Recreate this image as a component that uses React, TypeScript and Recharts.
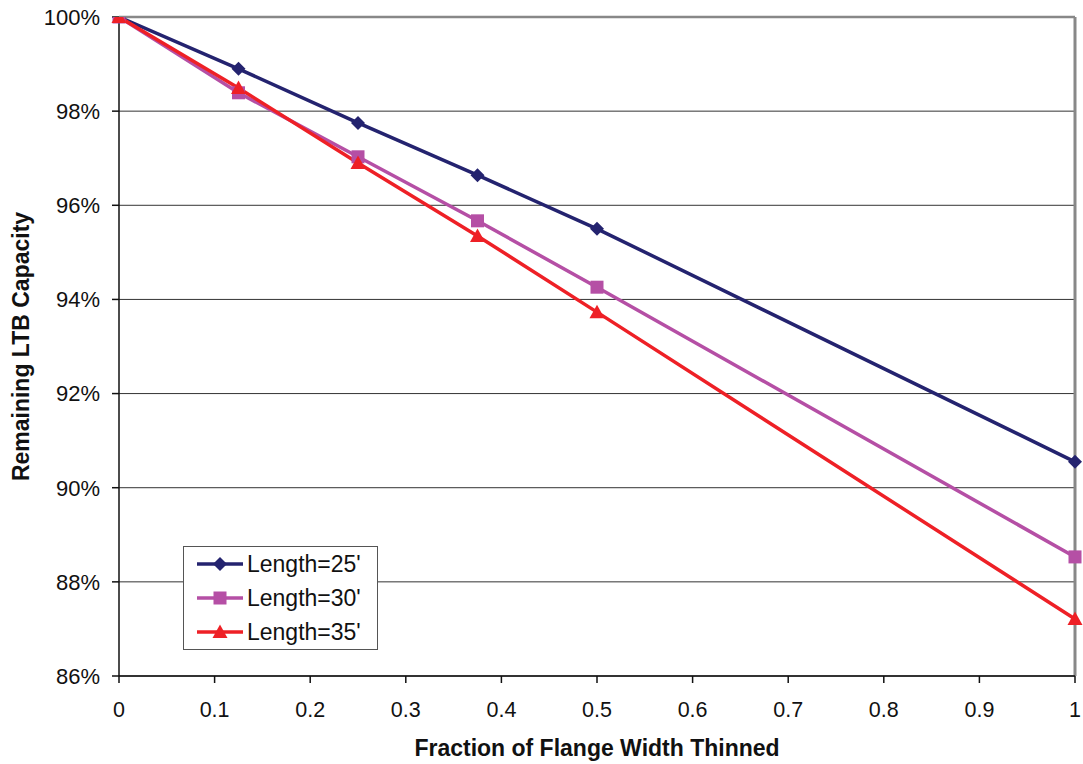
import { LineChart, Line, XAxis, YAxis, CartesianGrid, Legend, Label, ReferenceLine } from 'recharts'

// fraction of flange width thinned
const fractions = [0, 0.125, 0.25, 0.375, 0.5, 1]

// remaining LTB capacity (%) per girder length
const length25 = [100, 98.9, 97.75, 96.64, 95.5, 90.55]
const length30 = [100, 98.39, 97.03, 95.67, 94.26, 88.53]
const length35 = [100, 98.49, 96.9, 95.35, 93.73, 87.21]

const xTicks = [0, 0.1, 0.2, 0.3, 0.4, 0.5, 0.6, 0.7, 0.8, 0.9, 1]
const yTicks = [86, 88, 90, 92, 94, 96, 98, 100]

const data = fractions.map((f, i) => ({
  f,
  l25: length25[i],
  l30: length30[i],
  l35: length35[i]
}))

const FONT = '"Liberation Sans", Arial, sans-serif'

const series = [
  { key: 'l25', name: "Length=25'", color: '#24236F', shape: 'diamond' },
  { key: 'l30', name: "Length=30'", color: '#B54FA5', shape: 'square' },
  { key: 'l35', name: "Length=35'", color: '#EE2026', shape: 'triangle' }
]

function Marker({ cx, cy, shape, color }: { cx: number; cy: number; shape: string; color: string }) {
  if (shape === 'diamond') {
    const r = 7
    return <path d={`M${cx},${cy - r}L${cx + r},${cy}L${cx},${cy + r}L${cx - r},${cy}Z`} fill={color} />
  }
  if (shape === 'square') {
    const r = 6.5
    return <rect x={cx - r} y={cy - r} width={2 * r} height={2 * r} fill={color} />
  }
  const r = 7.5
  return <path d={`M${cx},${cy - r}L${cx + r},${cy + r * 0.8}L${cx - r},${cy + r * 0.8}Z`} fill={color} />
}

function LegendBox() {
  return (
    <div
      style={{
        border: '1.5px solid #555',
        background: '#fff',
        width: 195,
        boxSizing: 'border-box',
        fontFamily: FONT,
        fontSize: 23,
        color: '#111'
      }}
    >
      {series.map((s) => (
        <div key={s.key} style={{ display: 'flex', alignItems: 'center', height: 34 }}>
          <svg width={48} height={20} style={{ marginLeft: 13 }}>
            <line x1={0} y1={10} x2={46} y2={10} stroke={s.color} strokeWidth={3.5} />
            <Marker cx={23} cy={10} shape={s.shape} color={s.color} />
          </svg>
          <span style={{ marginLeft: 2 }}>{s.name}</span>
        </div>
      ))}
    </div>
  )
}

export default function App() {
  return (
    <div style={{ position: 'absolute', left: 0, top: 0, background: '#fff' }}>
      <LineChart
        width={1083}
        height={764}
        data={data}
        margin={{ top: 17, right: 8, bottom: 0, left: 0 }}
      >
        <CartesianGrid vertical={false} stroke="#333" strokeWidth={1} />
        <XAxis
          dataKey="f"
          type="number"
          domain={[0, 1]}
          ticks={xTicks}
          tickFormatter={(v: number) => String(v)}
          height={88}
          stroke="#111"
          strokeWidth={1.5}
          tickSize={7}
          tickMargin={19}
          tick={{ fill: '#111', fontSize: 21.5, fontFamily: FONT }}
        >
          <Label
            value="Fraction of Flange Width Thinned"
            position="insideBottom"
            offset={8}
            style={{ fontWeight: 'bold', fontSize: 23, fontFamily: FONT, fill: '#111' }}
          />
        </XAxis>
        <YAxis
          domain={[86, 100]}
          ticks={yTicks}
          tickFormatter={(v: number) => `${v}%`}
          width={119}
          stroke="#111"
          strokeWidth={1.5}
          tickSize={7}
          tickMargin={12}
          tick={{ fill: '#111', fontSize: 22, fontFamily: FONT }}
          allowDataOverflow
        >
          <Label
            value="Remaining LTB Capacity"
            angle={-90}
            position="insideLeft"
            offset={21}
            style={{ fontWeight: 'bold', fontSize: 23, fontFamily: FONT, fill: '#111', textAnchor: 'middle' }}
          />
        </YAxis>
        <ReferenceLine y={100} stroke="#888" strokeWidth={2.5} />
        <ReferenceLine x={1} stroke="#888" strokeWidth={3} />
        {series.map((s) => (
          <Line
            key={s.key}
            dataKey={s.key}
            name={s.name}
            type="linear"
            stroke={s.color}
            strokeWidth={3.5}
            isAnimationActive={false}
            dot={(p: any) => <Marker key={`${s.key}-${p.index}`} cx={p.cx} cy={p.cy} shape={s.shape} color={s.color} />}
            activeDot={false}
          />
        ))}
        <Legend
          layout="vertical"
          align="center"
          verticalAlign="middle"
          content={() => <LegendBox />}
          wrapperStyle={{ left: 183, top: 546, width: 195 }}
        />
      </LineChart>
    </div>
  )
}
